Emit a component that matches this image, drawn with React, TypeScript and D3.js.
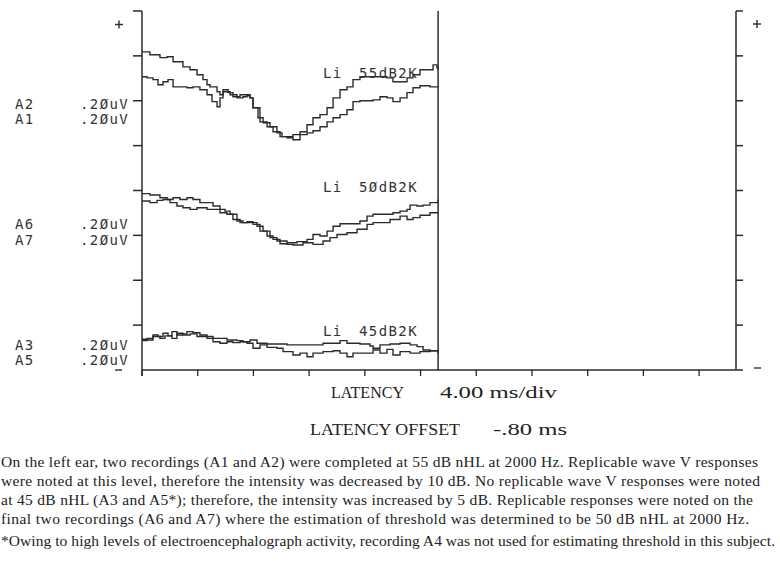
import React from 'react';
import * as d3 from 'd3';

// evoked response traces, [latency ms, amplitude uV]
const A2 = [[-0.8,0.218],[-0.23,0.205],[0.49,0.192],[1.0,0.196],[1.43,0.174],[2.14,0.151],[2.65,0.138],[3.15,0.116],[3.58,0.094],[3.87,0.071],[4.08,0.062],[4.59,0.04],[4.8,0.027],[5.02,0.049],[5.38,0.036],[5.73,0.018],[6.24,0.027],[6.74,0.022],[6.96,0.013],[7.17,-0.031],[7.53,-0.076],[7.89,-0.098],[8.39,-0.116],[8.89,-0.143],[9.25,-0.16],[9.61,-0.16],[10.04,-0.151],[10.55,-0.138],[11.05,-0.107],[11.48,-0.076],[11.98,-0.062],[12.49,-0.031],[12.92,0.013],[13.42,0.049],[13.92,0.062],[14.35,0.094],[14.85,0.107],[15.79,0.107],[16.79,0.102],[17.22,0.085],[17.73,0.085],[18.23,0.102],[18.66,0.116],[19.16,0.138],[19.67,0.138],[20.1,0.16],[20.38,0.147],[20.46,0.138]];
const A1 = [[-0.8,0.107],[-0.44,0.102],[-0.01,0.094],[0.35,0.071],[0.71,0.085],[1.07,0.094],[1.43,0.062],[1.93,0.062],[2.43,0.058],[2.86,0.062],[3.36,0.049],[3.87,0.027],[4.23,-0.004],[4.59,-0.027],[4.8,0.013],[5.02,0.04],[5.52,0.027],[6.02,0.013],[6.45,0.018],[6.74,0.027],[6.96,0.013],[7.17,-0.031],[7.67,-0.094],[8.18,-0.116],[8.61,-0.138],[9.11,-0.16],[9.61,-0.165],[10.04,-0.174],[10.55,-0.151],[11.05,-0.143],[11.48,-0.134],[11.98,-0.116],[12.49,-0.094],[12.92,-0.076],[13.42,-0.062],[13.92,-0.04],[14.35,-0.004],[14.85,0.0],[15.79,0.004],[16.29,0.018],[16.79,0.013],[17.22,-0.004],[17.73,0.013],[18.23,0.036],[18.66,0.058],[19.16,0.067],[19.88,0.062],[20.46,0.062]];
const A6 = [[-0.8,0.186],[-0.23,0.18],[0.49,0.168],[1.0,0.16],[1.43,0.168],[1.93,0.16],[2.43,0.168],[2.86,0.16],[3.36,0.146],[3.87,0.146],[4.3,0.131],[4.8,0.116],[5.16,0.108],[5.52,0.094],[6.02,0.064],[6.45,0.057],[6.96,0.057],[7.46,0.041],[7.89,0.019],[8.39,-0.01],[8.89,-0.025],[9.61,-0.033],[10.33,-0.028],[11.05,-0.018],[11.48,0.004],[11.98,-0.003],[12.49,0.019],[12.92,0.041],[13.42,0.052],[14.35,0.052],[14.85,0.064],[15.36,0.086],[15.79,0.094],[16.51,0.094],[17.22,0.101],[17.73,0.108],[18.23,0.116],[18.45,0.135],[18.95,0.131],[19.38,0.135],[19.88,0.146],[20.46,0.16]];
const A7 = [[-0.8,0.153],[-0.23,0.146],[0.28,0.156],[0.71,0.16],[1.21,0.146],[1.71,0.131],[2.14,0.123],[2.65,0.116],[3.15,0.123],[3.87,0.116],[4.3,0.116],[4.8,0.101],[5.3,0.094],[5.73,0.071],[6.24,0.057],[6.74,0.061],[7.17,0.049],[7.67,0.019],[8.18,-0.003],[8.61,-0.018],[9.11,-0.037],[9.61,-0.04],[10.04,-0.043],[10.76,-0.033],[11.48,-0.04],[12.2,-0.025],[12.7,-0.01],[13.2,0.004],[13.92,0.012],[14.64,0.027],[15.36,0.049],[15.79,0.057],[16.29,0.057],[17.01,0.071],[17.73,0.086],[18.23,0.071],[18.66,0.079],[19.16,0.09],[19.88,0.101],[20.46,0.101]];
const A3 = [[-0.8,0.037],[-0.44,0.041],[-0.01,0.056],[0.35,0.049],[0.71,0.064],[1.07,0.052],[1.35,0.071],[1.71,0.056],[2.07,0.061],[2.43,0.071],[2.86,0.066],[3.36,0.056],[3.87,0.049],[4.3,0.041],[4.8,0.041],[5.3,0.034],[6.02,0.031],[6.45,0.026],[6.96,0.034],[7.46,0.019],[8.18,0.016],[8.89,0.016],[9.61,0.012],[10.55,0.012],[11.48,0.012],[12.2,0.019],[12.92,0.019],[13.42,0.031],[13.92,0.019],[14.85,0.016],[15.57,0.007],[15.79,-0.003],[16.29,0.012],[17.01,0.016],[17.73,0.019],[18.45,0.012],[18.95,0.004],[19.38,-0.011],[19.88,-0.014],[20.46,-0.018]];
const A5 = [[-0.8,0.031],[-0.44,0.034],[-0.01,0.049],[0.49,0.041],[0.85,0.052],[1.35,0.041],[1.71,0.064],[2.14,0.056],[2.65,0.061],[3.15,0.049],[3.87,0.041],[4.3,0.026],[4.8,0.019],[5.3,0.026],[5.73,0.022],[6.24,0.026],[6.74,0.019],[7.17,-0.003],[7.67,0.012],[8.18,0.001],[8.89,-0.003],[9.33,-0.018],[10.04,-0.033],[10.55,-0.025],[11.05,-0.041],[11.48,-0.025],[12.2,-0.018],[12.92,-0.014],[13.42,-0.025],[13.92,-0.041],[14.35,-0.025],[15.07,-0.025],[15.79,-0.011],[16.29,-0.025],[16.79,-0.008],[17.22,-0.033],[17.73,-0.018],[18.45,-0.025],[19.16,-0.018],[19.88,-0.014],[20.46,-0.025]];

const pairs = [[A2, A1], [A6, A7], [A3, A5]];
const pairNames = [['A2', 'A1'], ['A6', 'A7'], ['A3', 'A5']];
const levels = ['55dB2K', '5ØdB2K', '45dB2K'];
const baselines = [1.2, 0.6, 0.1]; // uV offset of each pair
const sensitivity = '.2ØuV';

const latencyOffset = -0.8;
const msPerDiv = 4;
const sweepEnd = 20.46;
const screenEnd = 41.85;
const uvTicks = d3.range(9).map(i => i * 0.2);
const msTicks = d3.range(11).map(i => latencyOffset + i * msPerDiv);

const caption = [
  'On the left ear, two recordings (A1 and A2) were completed at 55 dB nHL at 2000 Hz. Replicable wave V responses',
  'were noted at this level, therefore the intensity was decreased by 10 dB. No replicable wave V responses were noted',
  'at 45 dB nHL (A3 and A5*); therefore, the intensity was increased by 5 dB. Replicable responses were noted on the',
  'final two recordings (A6 and A7) where the estimation of threshold was determined to be 50 dB nHL at 2000 Hz.',
];
const footnote = '*Owing to high levels of electroencephalograph activity, recording A4 was not used for estimating threshold in this subject.';
const captionEnds = [758, 760, 753, 749];

const App = () => {
  const x = d3.scaleLinear().domain([latencyOffset, screenEnd]).range([142, 736]);
  const y = d3.scaleLinear().domain([0, 1.6]).range([370, 11]);
  const ink = '#2b2b2b';
  const mono = '"DejaVu Sans Mono", monospace';
  const serif = '"Liberation Serif", serif';

  // label positions next to each pair
  const nameY = [[109, 124], [229, 245], [350, 365]];
  const levelY = [78, 192, 336];

  return (
    <svg width={780} height={562} style={{ position: 'absolute', left: 0, top: 0, background: '#fff' }}>
      {/* left axis */}
      <line x1={x(latencyOffset)} x2={x(latencyOffset)} y1={y(1.6)} y2={y(0) + 6} stroke={ink} strokeWidth={1.5} />
      {uvTicks.slice(1).map(t => (
        <line key={'l' + t} x1={x(latencyOffset) - 9} x2={x(latencyOffset)} y1={y(t)} y2={y(t)} stroke={ink} strokeWidth={1.5} />
      ))}
      {/* right axis */}
      <line x1={x(screenEnd)} x2={x(screenEnd)} y1={y(1.6)} y2={y(0)} stroke={ink} strokeWidth={1.5} />
      {uvTicks.map(t => (
        <line key={'r' + t} x1={x(screenEnd)} x2={x(screenEnd) + 7} y1={y(t)} y2={y(t)} stroke={ink} strokeWidth={1.5} />
      ))}
      {/* bottom axis */}
      <line x1={x(latencyOffset)} x2={x(screenEnd)} y1={y(0)} y2={y(0)} stroke={ink} strokeWidth={1.5} />
      {msTicks.map(t => (
        <line key={'b' + t} x1={x(t)} x2={x(t)} y1={y(0)} y2={y(0) + 6} stroke={ink} strokeWidth={1.3} />
      ))}
      {/* cursor */}
      <line x1={x(sweepEnd)} x2={x(sweepEnd)} y1={y(1.6)} y2={y(0)} stroke={ink} strokeWidth={1.5} />

      {/* polarity marks */}
      <g stroke={ink} strokeWidth={1.4}>
        <line x1={115} x2={123} y1={24.5} y2={24.5} />
        <line x1={119} x2={119} y1={20.5} y2={28.5} />
        <line x1={753} x2={761} y1={24} y2={24} />
        <line x1={757} x2={757} y1={20} y2={28} />
        <line x1={115} x2={122} y1={370} y2={370} />
        <line x1={754} x2={761} y1={368} y2={368} />
      </g>

      {pairs.map((pair, i) => {
        const line = d3.line<number[]>()
          .x(d => x(d[0]))
          .y(d => y(baselines[i] + d[1]))
          .curve(d3.curveStepAfter);
        return (
          <g key={i}>
            {pair.map((tr, j) => (
              <path key={j} d={line(tr) || ''} fill="none" stroke={ink} strokeWidth={1.4} />
            ))}
            {pairNames[i].map((n, j) => (
              <g key={n} fontFamily={mono} fontSize={14} fill="#333" letterSpacing={1.4}>
                <text x={15} y={nameY[i][j]}>{n}</text>
                <text x={80} y={nameY[i][j]}>{sensitivity}</text>
              </g>
            ))}
            <g fontFamily={mono} fontSize={14} fill="#333" letterSpacing={1.4}>
              <text x={323} y={levelY[i]}>Li</text>
              <text x={359} y={levelY[i]}>{levels[i]}</text>
            </g>
          </g>
        );
      })}

      <g fontFamily={serif} fontSize={17} fill="#222">
        <text x={331} y={398} textLength={73} lengthAdjust="spacingAndGlyphs">LATENCY</text>
        <text x={440} y={398} textLength={117} lengthAdjust="spacingAndGlyphs">{msPerDiv.toFixed(2)} ms/div</text>
        <text x={310} y={435} textLength={150} lengthAdjust="spacingAndGlyphs">LATENCY OFFSET</text>
        <text x={493} y={435} textLength={74} lengthAdjust="spacingAndGlyphs">-.80 ms</text>
      </g>

      <g fontFamily={serif} fontSize={15.5} fill="#222">
        {caption.map((c, i) => (
          <text key={i} x={1} y={467 + i * 19} textLength={captionEnds[i] - 1} lengthAdjust="spacing">{c}</text>
        ))}
        <text x={1} y={546} textLength={774} lengthAdjust="spacing">{footnote}</text>
      </g>
    </svg>
  );
};

export default App;
